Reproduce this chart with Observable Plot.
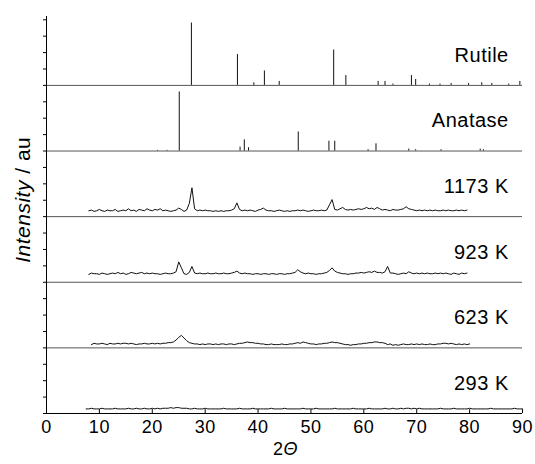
<!DOCTYPE html>
<html><head><meta charset="utf-8">
<script src="https://cdn.jsdelivr.net/npm/d3@7"></script>
<script src="https://cdn.jsdelivr.net/npm/@observablehq/plot@0.6"></script>
<style>body{margin:0;background:#fff} svg text{letter-spacing:0.5px}</style>
</head><body><div id="chart"></div>
<script>
// ---- data ----
const xTicks = [0, 10, 20, 30, 40, 50, 60, 70, 80, 90];
const yTicks = [0,0.25,0.5,0.75,1,1.25,1.5,1.75,2,2.25,2.5,2.75,3,3.25,3.5,3.75,4,4.25,4.5,4.75,5,5.25,5.5,5.75,6];
const panelNames = ["293 K", "623 K", "923 K", "1173 K", "Anatase", "Rutile"];

// reference stick patterns (2θ, relative intensity %)
const rutileAngles    = [27.4, 36.1, 39.2, 41.2, 44.0, 54.3, 56.6, 62.7, 64.0, 65.5, 69.0, 69.8, 72.4, 74.4, 76.5, 79.8, 82.3, 84.2, 87.4, 89.5];
const rutileIntensity = [95,   47,   4,    22,   6,    54,   15,   6,    6,    2,    15,   9,    2,    2,    3,    3,    4,    3,    2,    6];
const anataseAngles    = [21.0, 22.8, 25.1, 36.6, 37.4, 38.2, 47.6, 53.4, 54.5, 60.8, 62.3, 68.5, 69.8, 74.6, 82.0, 82.6];
const anataseIntensity = [1,    1,    90,   6,    17,   5,    29,   15,   15,   2,    11,   3,    2,    2,    3,    2];

// measured patterns, sampled every 0.5° from their start angle (intensity %)
const step = 0.5;
const start293 = 7.5;
const int293 = [7,7,8,7,7,7,8,7,7,7, 7,8,7,7,7,7,8,7,7,8, 7,7,8,7,7,8,7,8,7,8, 8,8,9,8,9,9,8,8,8,7,
  7,8,7,7,7,8,7,7,7,7, 7,7,8,7,7,7,7,7,8,7, 7,7,7,8,7,7,7,7,7,7, 8,7,7,7,7,8,7,7,7,7,
  7,7,8,7,7,7,7,8,7,7, 7,7,7,7,8,7,7,7,7,7, 7,8,7,7,7,7,7,8,7,7, 7,7,7,8,7,7,8,7,7,8,
  7,8,8,7,8,7,8,7,7,7, 7,7,7,7,8,7,7,7,7,8, 7,7,7,7,7,8,7,7,7,7, 7,7,7,8,7,7,7,7,7,7, 7,7,8,7,7,7];
const start623 = 8.5;
const int623 = [5,7,6,6,7,6,5,7,6,6, 7,6,7,7,6,7,6,5,6,6, 7,6,6,7,6,7,6,7,7,8, 8,
  9,12,16,19,15,11,8,7,6,6, 5,6,5,6,6,5,6,5,6,6, 5,6,6,5,6,7,7,8,9,8, 8,7,7,6,6,5,5,6,5,5,
  5,6,5,5,6,6,7,8,7,9, 8,7,6,6,5,6,6,7,7,8, 9,8,8,7,6,5,5,4,5,5, 6,6,7,7,8,8,9,9,8,8,
  7,5,6,4,5,4,5,6,5,5, 6,5,6,5,6,5,5,6,5,5, 6,6,7,7,6,7,6,5,6,5, 6,5,6];
const start923 = 8.0;
const int923 = [12,14,13,13,12,14,13,12,13,14, 13,15,13,14,12,13,15,14,13,14, 15,13,14,13,14,13,13,12,13,14, 13,13,14,
  16,31,22,13,12,15,24,14,13, 14,13,13,14,13,13,14,13,13,14, 13,13,14,15,17,14,13,14,13,13,
  12,13,13,12,13,13,12,13,13,12, 13,13,12,13,13,14,15,19,16,14, 13,14,13,13,12,13,13,14,15,18,
  22,17,15,14,13,13,12,13,13,14, 14,15,14,15,16,15,17,15,15,14, 16,24,14,14,13,12,13,14,13,16,
  14,13,14,13,14,13,14,13,13,14, 13,14,13,14,13,12,14,13,12,14, 13,14];
const start1173 = 8.0;
const int1173 = [9,10,8,9,11,9,8,10,9,9, 11,8,9,10,9,12,9,10,8,11, 10,9,12,10,9,11,10,12,9,10, 9,8,9,10,
  13,11,8,10,20,44,12,9, 10,9,10,9,9,8,9,8,9,8, 9,9,10,12,21,11,9,10,9,10,
  9,8,10,11,13,10,9,9,8,9, 10,9,8,9,8,9,9,10,9,10, 9,8,9,10,9,9,10,9,10,18,
  26,11,10,12,14,11,10,11,10,11, 12,11,12,14,12,13,11,14,12,10, 11,10,9,11,10,10,11,12,15,12,
  11,10,9,10,9,10,9,10,9,10, 9,9,10,9,10,9,9,10,9,10, 9,10];

// ---- build tables ----
const measured = [
  {panel: 0, start: start293, values: int293},
  {panel: 1, start: start623, values: int623},
  {panel: 2, start: start923, values: int923},
  {panel: 3, start: start1173, values: int1173}
];
const lineRows = measured.flatMap(s => s.values.map((v, i) => ({panel: s.panel, x: s.start + i * step, v})));
const sticks = [
  ...rutileAngles.map((a, i) => ({panel: 5, x: a, v: rutileIntensity[i]})),
  ...anataseAngles.map((a, i) => ({panel: 4, x: a, v: anataseIntensity[i]}))
];
const panelIdx = panelNames.map((_, i) => i);

const chart = Plot.plot({
  width: 535, height: 464,
  marginLeft: 46, marginRight: 13, marginTop: 16, marginBottom: 51,
  x: {domain: [0, 90]},
  y: {domain: [0, 6.05]},
  style: {fontFamily: "'Liberation Sans', Arial, Helvetica, sans-serif", fontSize: "18px", color: "#000", background: "#fff"},
  marks: [
    Plot.ruleY(panelIdx.slice(1), {stroke: "#555", strokeWidth: 1}),
    Plot.ruleY([0], {stroke: "#000", strokeWidth: 1}),
    Plot.ruleX([0], {y1: 0, y2: 6.05, stroke: "#000", strokeWidth: 1}),
    Plot.axisY({ticks: yTicks, tickSize: 3, tickFormat: () => "", label: null}),
    Plot.axisX({ticks: xTicks, tickSize: 0, tickPadding: 7, label: null, fontSize: 18}),
    Plot.ruleX(xTicks, {y1: 0, y2: 0.06, stroke: "#000"}),
    Plot.ruleX(sticks, {x: "x", y1: d => d.panel, y2: d => d.panel + d.v / 100, stroke: "#111", strokeWidth: 1}),
    Plot.line(lineRows, {x: "x", y: d => d.panel + d.v / 100, z: "panel", stroke: "#111", strokeWidth: 1}),
    Plot.text(panelNames, {x: 87.4, y: (d, i) => i + 0.36, text: d => d, textAnchor: "end", lineAnchor: "bottom", fontSize: 20, fill: "#000"})
  ]
});

const svg = d3.select(chart);
const sy = chart.scale("y"), sx = chart.scale("x");
const yl = svg.append("text")
  .attr("transform", `translate(30,${sy.apply(3.25)}) rotate(-90)`)
  .attr("text-anchor", "middle")
  .attr("font-size", 21)
  .attr("fill", "#000");
yl.append("tspan").attr("font-style", "italic").text("Intensity");
yl.append("tspan").text(" / au");
const xl = svg.append("text")
  .attr("x", sx.apply(45.3)).attr("y", 455)
  .attr("text-anchor", "middle").attr("font-size", 18).attr("fill", "#000");
xl.append("tspan").text("2");
xl.append("tspan").attr("font-style", "italic").text("Θ");

document.getElementById("chart").appendChild(chart);
</script>
</body></html>
